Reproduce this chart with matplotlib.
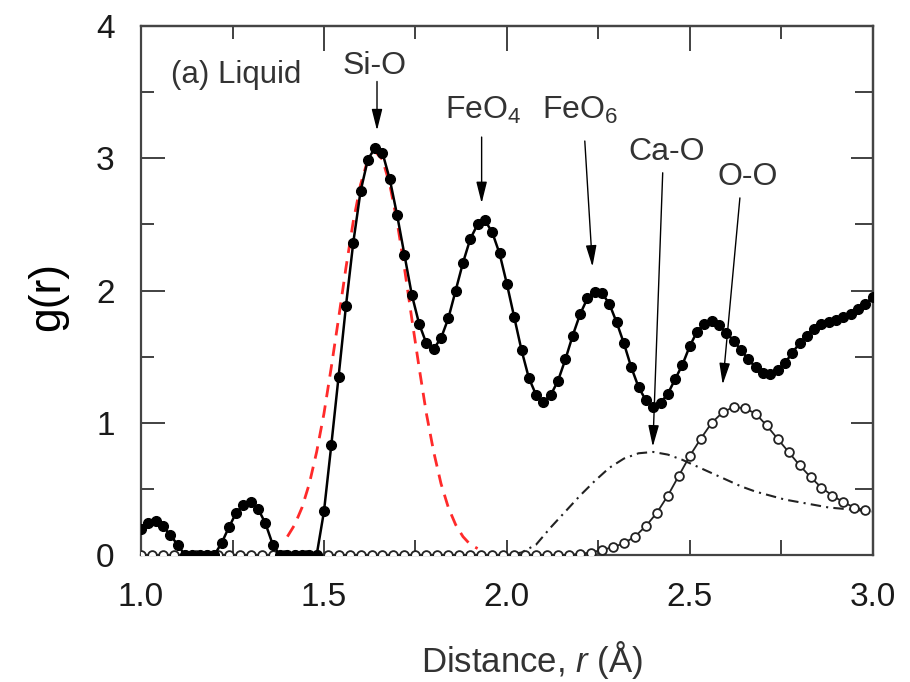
import numpy as np
import matplotlib
matplotlib.use("Agg")
from matplotlib import pyplot as plt
from matplotlib.ticker import MultipleLocator

plt.rcParams['font.family'] = ['Liberation Sans', 'DejaVu Sans']
plt.rcParams['mathtext.fontset'] = 'custom'
plt.rcParams['mathtext.rm'] = 'Liberation Sans'
plt.rcParams['mathtext.it'] = 'Liberation Sans:italic'

# total g(r), filled circles, sampled every 0.02 A from 1.00 to 3.00
r_total = np.linspace(1.0, 3.0, 101)
g_total = [0.20, 0.24, 0.26, 0.22, 0.15, 0.08, 0.00, 0.00, 0.00, 0.00,
           0.00, 0.09, 0.21, 0.32, 0.38, 0.40, 0.35, 0.24, 0.08, 0.00,
           0.00, 0.00, 0.00, 0.00, 0.00, 0.33, 0.83, 1.35, 1.88, 2.36,
           2.75, 2.99, 3.08, 3.04, 2.84, 2.57, 2.27, 1.97, 1.75, 1.60,
           1.56, 1.64, 1.79, 2.00, 2.21, 2.39, 2.50, 2.53, 2.44, 2.28,
           2.05, 1.80, 1.55, 1.34, 1.21, 1.16, 1.21, 1.32, 1.48, 1.66,
           1.82, 1.94, 1.99, 1.98, 1.90, 1.76, 1.60, 1.42, 1.27, 1.17,
           1.12, 1.15, 1.22, 1.33, 1.44, 1.58, 1.69, 1.75, 1.77, 1.74,
           1.68, 1.62, 1.55, 1.48, 1.42, 1.38, 1.37, 1.40, 1.45, 1.53,
           1.60, 1.66, 1.71, 1.75, 1.76, 1.78, 1.80, 1.82, 1.86, 1.90,
           1.95]

# O-O partial, open circles, every 0.03 A
r_oo = np.linspace(1.0, 2.98, 67)
g_oo = [0.0] * 40 + [0.01, 0.02, 0.04, 0.06, 0.09, 0.14, 0.22, 0.32, 0.45, 0.60,
                     0.75, 0.88, 1.00, 1.08, 1.12, 1.11, 1.07, 0.98, 0.88, 0.78,
                     0.68, 0.59, 0.51, 0.45, 0.40, 0.36, 0.34]

# Si-O peak fit (red dashed)
r_sio = np.linspace(1.40, 1.92, 27)
g_sio = [0.14, 0.23, 0.36, 0.54, 0.78, 1.07, 1.42, 1.79, 2.17, 2.52,
         2.80, 2.99, 3.05, 2.99, 2.80, 2.52, 2.17, 1.79, 1.42, 1.07,
         0.78, 0.54, 0.36, 0.23, 0.14, 0.08, 0.05]

# Ca-O partial (dash-dot)
r_cao = np.linspace(1.96, 3.00, 27)
g_cao = [0.00, 0.00, 0.02, 0.08, 0.21, 0.33, 0.45, 0.56, 0.66, 0.73,
         0.77, 0.78, 0.76, 0.72, 0.67, 0.62, 0.57, 0.52, 0.48, 0.45,
         0.42, 0.40, 0.38, 0.36, 0.35, 0.34, 0.33]

# peak labels: text, text position, arrow tail, arrow tip
peak_labels = [
    ('Si-O', (1.639, 3.70), (1.645, 3.58), (1.645, 3.21)),
    ('FeO$_4$', (1.935, 3.36), (1.931, 3.16), (1.931, 2.66)),
    ('FeO$_6$', (2.200, 3.36), (2.213, 3.13), (2.234, 2.18)),
    ('Ca-O', (2.437, 3.05), (2.426, 2.89), (2.399, 0.82)),
    ('O-O', (2.658, 2.86), (2.637, 2.70), (2.590, 1.29)),
]

fig = plt.figure(figsize=(9.1, 6.82), dpi=100)
ax = fig.add_axes([0.155, 0.186, 0.804, 0.776])

ax.plot(r_sio, g_sio, color='#ff2a2a', lw=2.0, dashes=(4.5, 3), zorder=2)
ax.plot(r_cao, g_cao, color='#222222', lw=1.5, dashes=(5, 2.5, 1, 2.5), zorder=2)
ax.plot(r_oo, g_oo, color='#222222', lw=1.3, marker='o', ms=6.3, mfc='white',
        mec='#222222', mew=1.3, zorder=3)
ax.plot(r_total, g_total, color='black', lw=1.8, marker='o', ms=7,
        mfc='black', mec='black', zorder=4)

ax.set_xlim(1.0, 3.0)
ax.set_ylim(0, 4)
ax.set_xticks([1.0, 1.5, 2.0, 2.5, 3.0])
ax.set_xticklabels(['1.0', '1.5', '2.0', '2.5', '3.0'])
ax.set_yticks([0, 1, 2, 3, 4])
ax.xaxis.set_minor_locator(MultipleLocator(0.25))
ax.yaxis.set_minor_locator(MultipleLocator(0.5))

ax.tick_params(which='both', direction='in', top=False, right=False,
               width=1.3, color='#333333', labelsize=24, labelcolor='#1a1a1a')
ax.tick_params(axis='x', which='both', length=11, pad=19)
ax.tick_params(axis='y', which='major', length=17, pad=19)
ax.tick_params(axis='y', which='minor', length=9)

top = ax.secondary_xaxis('top')
top.set_xticks([1.0, 1.5, 2.0, 2.5, 3.0])
top.xaxis.set_minor_locator(MultipleLocator(0.25))
top.tick_params(which='both', direction='in', width=1.3, color='#333333', labeltop=False)
top.tick_params(which='major', length=18)
top.tick_params(which='minor', length=9)

right = ax.secondary_yaxis('right')
right.set_yticks([0, 1, 2, 3, 4])
right.yaxis.set_minor_locator(MultipleLocator(0.5))
right.tick_params(which='both', direction='in', width=1.3, color='#333333', labelright=False)
right.tick_params(which='major', length=16)
right.tick_params(which='minor', length=13)

for a in (ax, top, right):
    for s in a.spines.values():
        s.set_linewidth(1.6)
        s.set_color('#444444')

ax.set_ylabel('g(r)', fontsize=32, va='center')
ax.yaxis.set_label_coords(-0.128, 0.488)
ax.set_xlabel('Distance, $r$ (Å)', fontsize=25, color='#333333', va='center')
ax.xaxis.set_label_coords(0.535, -0.198)

ax.text(1.26, 3.63, '(a) Liquid', fontsize=22.5, color='#333333', ha='center', va='center')

for label, txt_pos, tail, tip in peak_labels:
    ax.text(txt_pos[0], txt_pos[1], label, fontsize=23, color='#333333',
            ha='center', va='center')
    ax.annotate('', xy=tip, xytext=tail,
                arrowprops=dict(arrowstyle='-|>,head_length=1.0,head_width=0.25',
                                mutation_scale=13, lw=1.0, color='black',
                                shrinkA=0, shrinkB=0))

fig.savefig('out.png', dpi=100)
